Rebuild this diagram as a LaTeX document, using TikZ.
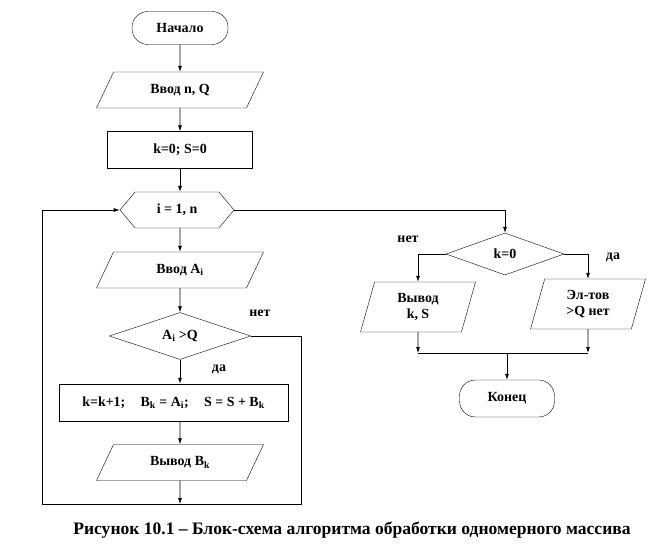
\documentclass[tikz,border=0pt]{standalone}
\usepackage{fontspec}
\setmainfont{Liberation Serif}
\usetikzlibrary{shapes.geometric,shapes.symbols,arrows.meta}

\begin{document}
\begin{tikzpicture}[x=1bp,y=-1bp,
	>={Latex[length=6bp,width=4bp]},
	every node/.style={font=\bfseries\fontsize{14}{17}\selectfont},
	term/.style={shape=rectangle,draw=black,rounded corners=16bp,minimum width=96bp,minimum height=33bp},
	io/.style={shape=trapezium,draw=black,trapezium left angle=47,trapezium right angle=133,minimum width=167bp,minimum height=36bp,trapezium stretches body,align=center},
	iosteep/.style={io,trapezium left angle=68,trapezium right angle=112,minimum width=115bp,minimum height=50bp},
	proc/.style={shape=rectangle,draw=black,minimum height=37bp},
	hexa/.style={shape=signal,draw=black,signal to=east and west,signal pointer angle=100,minimum width=114bp,minimum height=36bp},
	choice/.style={shape=diamond,draw=black,aspect=3,inner sep=1bp},
	flow/.style={line width=0.7bp}
]
	\useasboundingbox (0,0) rectangle (672,554);

	\node[term] (start) at (180,28) {Начало};
	\node[io] (inq) at (180,90) {Ввод n, Q};
	\node[proc,minimum width=145bp] (init) at (180,150) {k=0; S=0};
	\node[hexa] (loop) at (177,210) {i = 1, n};
	\node[io] (ina) at (180,270) {Ввод A\textsubscript{i}};
	\node[choice,minimum width=141bp,minimum height=47bp] (test) at (180,336) {A\textsubscript{i} >Q};
	\node[proc,minimum width=229bp] (body) at (173.5,402.5) {k=k+1;\hspace{1.1em}B\textsubscript{k} = A\textsubscript{i};\hspace{1.1em}S = S + B\textsubscript{k}};
	\node[io] (outb) at (180,462.5) {Вывод B\textsubscript{k}};

	\node[choice,minimum width=118bp,minimum height=42bp] (kzero) at (505,254) {k=0};
	\node[iosteep] (outks) at (418,307) {Вывод\\k, S};
	\node[iosteep] (none) at (588,304) {Эл-тов\\>Q нет};
	\node[term,minimum width=95bp,minimum height=37bp] (finish) at (507,398.5) {Конец};

	\node (testno) at (260,313) {нет};
	\node (testyes) at (219,369) {да};
	\node (kno) at (408,239) {нет};
	\node (kyes) at (613,257) {да};

	\node[font=\bfseries\fontsize{17.6}{20}\selectfont] (caption) at (352,530) {Рисунок 10.1 -- Блок-схема алгоритма обработки одномерного массива};

	\coordinate (join) at (180,504);
	\coordinate (botleft) at (42,504);
	\coordinate (botright) at (301,504);
	\coordinate (mleft) at (418,353);
	\coordinate (mright) at (588,353);
	\coordinate (mmid) at (507,353);

	\path[->, flow] (start) edge (inq);
	\path[->, flow] (inq) edge (init);
	\path[->, flow] (init) edge (init |- loop.north);
	\path[->, flow] (loop.south -| ina) edge (ina);
	\path[->, flow] (ina) edge (test);
	\path[->, flow] (test) edge (test |- body.north);
	\path[->, flow] (body.south -| outb) edge (outb);
	\path[->, flow] (outb) edge (join);
	\draw[flow] (test.east) -| (botright) -- (botleft);
	\draw[->, flow] (botleft) |- (loop.west);

	\draw[->, flow] (loop.east) -| (kzero.north);
	\draw[->, flow] (kzero.west) -| (outks.north);
	\draw[->, flow] (kzero.east) -| (none.north);
	\path[->, flow] (outks) edge (mleft);
	\path[->, flow] (none) edge (mright);
	\draw[flow] (mleft) -- (mright);
	\path[->, flow] (mmid) edge (finish);

\end{tikzpicture}
\end{document}
